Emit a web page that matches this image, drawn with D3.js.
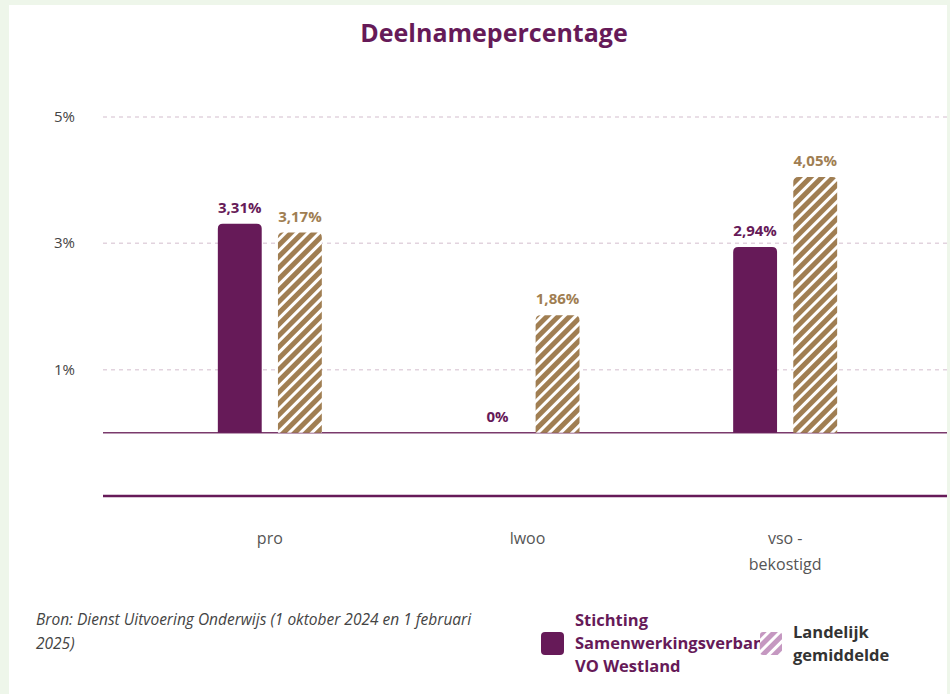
<!DOCTYPE html>
<html>
<head>
<meta charset="utf-8">
<script src="https://cdn.jsdelivr.net/npm/d3@7"></script>
<style>
  body { margin: 0; background: #eef6ea; }
  svg { display: block; }
  text { font-family: "Open Sans", Lato, sans-serif; }
</style>
</head>
<body>
<script>
// data
const categories = ["pro", "lwoo", "vso - bekostigd"];
const categoryLines = [["pro"], ["lwoo"], ["vso -", "bekostigd"]];
const seriesNames = ["Stichting Samenwerkingsverband VO Westland", "Landelijk gemiddelde"];
const westland = [3.31, 0, 2.94];
const landelijk = [3.17, 1.86, 4.05];
const yTicks = [1, 3, 5];

const purple = "#661a58", brown = "#a07e52";

const width = 950, height = 694;

let svg = d3.select("body").append("svg")
  .attr("width", width).attr("height", height);

let defs = svg.append("defs");
function hatch(id, color) {
  let p = defs.append("pattern")
    .attr("id", id).attr("patternUnits", "userSpaceOnUse")
    .attr("width", 8).attr("height", 8)
    .attr("patternTransform", "rotate(45)");
  p.append("rect").attr("width", 8).attr("height", 8).attr("fill", "#fff");
  p.append("rect").attr("width", 5).attr("height", 8).attr("fill", color);
}
hatch("hatchBrown", brown);
hatch("hatchPink", "#c598c1");

// white panel
svg.append("rect").attr("x", 9).attr("y", 5).attr("width", 938).attr("height", 689).attr("fill", "#fff");

svg.append("text")
  .attr("x", 494).attr("y", 42)
  .attr("text-anchor", "middle")
  .attr("font-size", 25).attr("font-weight", 700)
  .attr("fill", purple)
  .text("Deelnamepercentage");

let y = d3.scaleLinear().domain([-1, 5]).range([496, 117]);
let x0 = d3.scaleBand().domain(categories).range([141, 914]);
let x1 = d3.scaleBand().domain([0, 1]).range([-52, 52]).paddingInner(0.27);

// gridlines
svg.append("g").selectAll("line")
  .data(yTicks).enter().append("line")
    .attr("x1", 103).attr("x2", 947)
    .attr("y1", d => y(d)).attr("y2", d => y(d))
    .attr("stroke", "#e2d3de").attr("stroke-width", 1.5)
    .attr("stroke-dasharray", "4,4");

svg.append("g").selectAll("text")
  .data(yTicks).enter().append("text")
    .attr("x", 75).attr("y", d => y(d) + 5)
    .attr("text-anchor", "end")
    .attr("font-size", 15).attr("fill", "#444")
    .text(d => d + "%");

// zero line & axis line
svg.append("line")
  .attr("x1", 103).attr("x2", 947).attr("y1", y(0)).attr("y2", y(0))
  .attr("stroke", "#7a3a6c").attr("stroke-width", 1.5);
svg.append("line")
  .attr("x1", 103).attr("x2", 947).attr("y1", y(-1)).attr("y2", y(-1))
  .attr("stroke", purple).attr("stroke-width", 2.5);

function topRounded(x, yTop, w, h, r) {
  if (h <= 0) return "";
  r = Math.min(r, h);
  return `M${x},${yTop + h}V${yTop + r}Q${x},${yTop} ${x + r},${yTop}H${x + w - r}Q${x + w},${yTop} ${x + w},${yTop + r}V${yTop + h}Z`;
}

const series = [
  {values: westland, fill: purple, label: purple},
  {values: landelijk, fill: "url(#hatchBrown)", label: brown}
];

series.forEach((s, si) => {
  let g = svg.append("g");
  g.selectAll("path")
    .data(categories).enter().append("path")
      .attr("d", (c, i) => topRounded(x0(c) + x0.bandwidth() / 2 + x1(si), y(s.values[i]), x1.bandwidth(), y(0) - y(s.values[i]), 5))
      .attr("fill", s.fill);
  g.selectAll("text")
    .data(categories).enter().append("text")
      .attr("x", (c, i) => x0(c) + x0.bandwidth() / 2 + x1(si) + x1.bandwidth() / 2)
      .attr("y", (c, i) => y(s.values[i]) - 11)
      .attr("text-anchor", "middle")
      .attr("font-size", 15).attr("font-weight", 700)
      .attr("fill", s.label)
      .text((c, i) => String(s.values[i]).replace(".", ",") + "%");
});

// x labels
categories.forEach((c, i) => {
  let t = svg.append("text")
    .attr("x", x0(c) + x0.bandwidth() / 2).attr("y", 544)
    .attr("text-anchor", "middle")
    .attr("font-size", 16).attr("fill", "#555");
  categoryLines[i].forEach((l, j) => {
    t.append("tspan").attr("x", x0(c) + x0.bandwidth() / 2).attr("dy", j ? 26 : 0).text(l);
  });
});

// source
let src = svg.append("text").attr("font-size", 15.5).attr("font-style", "italic").attr("fill", "#444");
src.append("tspan").attr("x", 36).attr("y", 625).text("Bron: Dienst Uitvoering Onderwijs (1 oktober 2024 en 1 februari");
src.append("tspan").attr("x", 36).attr("y", 649).text("2025)");

// legend
svg.append("rect").attr("x", 541).attr("y", 632).attr("width", 23).attr("height", 23).attr("rx", 4).attr("fill", purple);
let l1 = svg.append("text").attr("font-size", 16.5).attr("font-weight", 700).attr("fill", purple);
["Stichting", "Samenwerkingsverban", "VO Westland"].forEach((s, j) => {
  l1.append("tspan").attr("x", 575).attr("y", 626 + j * 23).text(s);
});
svg.append("rect").attr("x", 760).attr("y", 632).attr("width", 22).attr("height", 23).attr("rx", 3).attr("fill", "url(#hatchPink)");
let l2 = svg.append("text").attr("font-size", 16.5).attr("font-weight", 700).attr("fill", "#333");
["Landelijk", "gemiddelde"].forEach((s, j) => {
  l2.append("tspan").attr("x", 793).attr("y", 638 + j * 23).text(s);
});
</script>
</body>
</html>
